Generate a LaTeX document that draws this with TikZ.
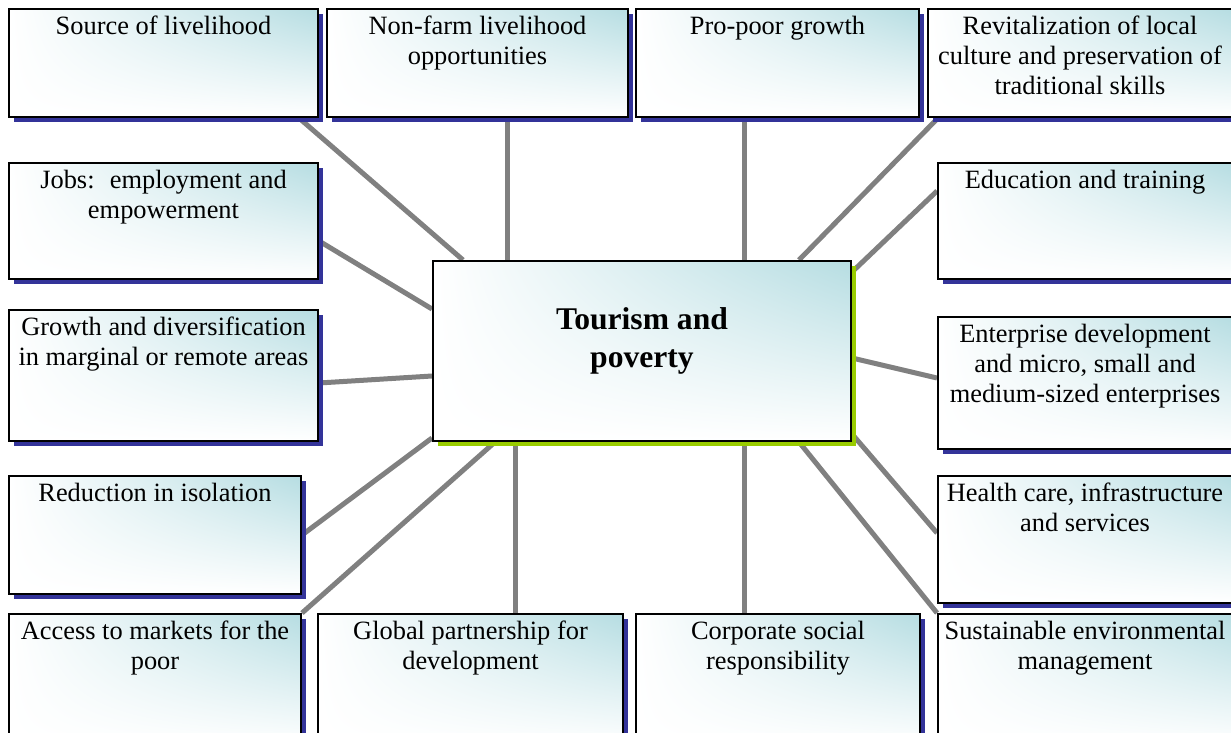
\documentclass[tikz,border=0pt]{standalone}
\usepackage{fontspec}
\setmainfont{Liberation Serif}
\usetikzlibrary{shadows,shadings,backgrounds}
\definecolor{boxteal}{RGB}{182,221,226}
\definecolor{shadowblue}{RGB}{51,51,153}
\definecolor{ctrgreen}{RGB}{153,204,0}
\definecolor{linkgray}{RGB}{128,128,128}
\newcommand{\boxfont}{\fontsize{13.2pt}{15pt}\selectfont}
\newcommand{\ctrfont}{\fontsize{15.8pt}{19pt}\selectfont\bfseries}

\begin{document}
\begin{tikzpicture}[x=0.5pt,y=-0.5pt,
  tbox/.style={draw=black, line width=1pt, shade, upper right=boxteal, upper left=white,
    lower left=white, lower right=white, anchor=north west, inner sep=0pt,
    drop shadow={shadow xshift=2.5pt, shadow yshift=-2.5pt, fill=#1, opacity=1}},
  tbox/.default=shadowblue,
  txt/.style={anchor=north, yshift=#1, inner sep=0pt, align=center, font=\boxfont},
  txt/.default=-4pt,
  link/.style={draw=linkgray, line width=2.5pt}]
  \useasboundingbox (0,0) rectangle (1231,733);
  % top row
  \node[tbox, minimum width=154.5pt, minimum height=54pt, label={[txt]north:{Source of livelihood}}] (src) at (8,8) {};
  \node[tbox, minimum width=150.5pt, minimum height=54pt, label={[txt]north:{Non-farm livelihood\\opportunities}}] (nonfarm) at (326,8) {};
  \node[tbox, minimum width=141.5pt, minimum height=54pt, label={[txt]north:{Pro-poor growth}}] (propoor) at (635,8) {};
  \node[tbox, minimum width=152pt, minimum height=54pt, label={[txt]north:{Revitalization of local\\culture and preservation of\\traditional skills}}] (revital) at (927,8) {};
  % left column
  \node[tbox, minimum width=154.5pt, minimum height=58pt, label={[txt]north:{Jobs:~ employment and\\empowerment}}] (jobs) at (8,162) {};
  \node[tbox, minimum width=154.5pt, minimum height=65.5pt, label={[txt]north:{Growth and diversification\\in marginal or remote areas}}] (growth) at (8,309) {};
  \node[tbox, minimum width=146pt, minimum height=59pt, label={[txt]north:{Reduction in isolation}}] (reduce) at (8,475) {};
  % right column
  \node[tbox, minimum width=147pt, minimum height=58pt, label={[txt]north:{Education and training}}] (educ) at (937,162) {};
  \node[tbox, minimum width=147pt, minimum height=66pt, label={[txt]north:{Enterprise development\\and micro, small and\\medium-sized enterprises}}] (enterp) at (937,316) {};
  \node[tbox, minimum width=147pt, minimum height=63.5pt, label={[txt]north:{Health care, infrastructure\\and services}}] (health) at (937,475) {};
  % bottom row
  \node[tbox, minimum width=146pt, minimum height=66pt, label={[txt]north:{Access to markets for the\\poor}}] (access) at (8,613) {};
  \node[tbox, minimum width=152.5pt, minimum height=66pt, label={[txt]north:{Global partnership for\\development}}] (global) at (317,613) {};
  \node[tbox, minimum width=142pt, minimum height=66pt, label={[txt]north:{Corporate social\\responsibility}}] (corp) at (635,613) {};
  \node[tbox, minimum width=147pt, minimum height=66pt, label={[txt]north:{Sustainable environmental\\management}}] (sustain) at (937,613) {};
  % centre
  \node[tbox=ctrgreen, minimum width=209pt, minimum height=90pt, label={[txt=-23.8pt, font=\ctrfont]north:{Tourism and\\poverty}}] (ctr) at (432,260) {};
  \begin{scope}[on background layer]
    \draw[link] ([xshift=-10pt]src.south east) -- ([xshift=15.5pt]ctr.north west);
    \draw[link] ([xshift=14.75pt]nonfarm.south) -- ([xshift=-67.5pt]ctr.north);
    \draw[link] ([xshift=-16.75pt]propoor.south) -- ([xshift=51pt]ctr.north);
    \draw[link] ([xshift=5.5pt]revital.south west) -- ([xshift=-26.5pt]ctr.north east);
    \draw[link] ([yshift=-10pt]jobs.east) -- ([yshift=21pt]ctr.west);
    \draw[link] ([yshift=15pt]educ.west) -- ([yshift=-6pt]ctr.north east);
    \draw[link] ([yshift=-3.75pt]growth.east) -- ([yshift=-12.5pt]ctr.west);
    \draw[link] ([yshift=2.5pt]enterp.west) -- ([yshift=-3.5pt]ctr.east);
    \draw[link] (reduce.east) -- ([yshift=2pt]ctr.south west);
    \draw[link] ([yshift=3.25pt]health.west) -- ([yshift=4pt]ctr.south east);
    \draw[link] (access.north east) -- ([xshift=31.5pt]ctr.south west);
    \draw[link] ([xshift=22.25pt]global.north) -- ([xshift=-63.5pt]ctr.south);
    \draw[link] ([xshift=-17pt]corp.north) -- ([xshift=51pt]ctr.south);
    \draw[link] (sustain.north west) -- ([xshift=-26.5pt]ctr.south east);
  \end{scope}
\end{tikzpicture}
\end{document}
